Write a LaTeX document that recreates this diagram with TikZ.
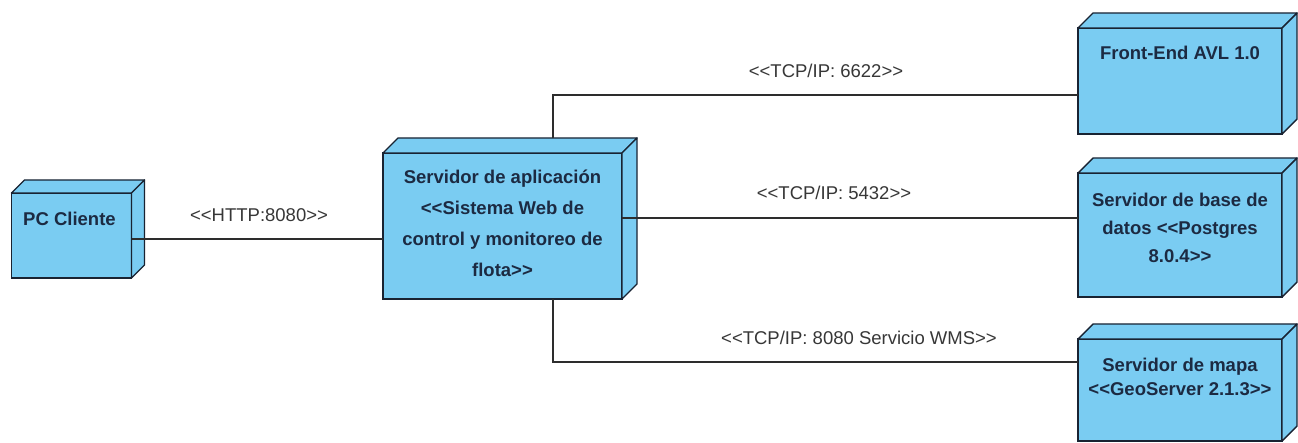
\documentclass[tikz,border=0pt]{standalone}
\usepackage{fontspec}
\setmainfont{Liberation Sans}
\usetikzlibrary{calc}
\definecolor{nodefill}{RGB}{122,204,242}
\definecolor{nodeline}{RGB}{25,35,50}
\definecolor{nodetext}{RGB}{28,42,66}
\definecolor{linkline}{RGB}{45,45,45}
\definecolor{linktext}{RGB}{55,55,55}
% stereotype brackets without guillemet ligatures
\newcommand\stO{<\kern0pt<}
\newcommand\stC{>\kern0pt>}
\begin{document}
\begin{tikzpicture}[x=1pt,y=-1pt,
  nodebox/.style={draw=nodeline, fill=nodefill, line width=1.4pt, rectangle,
    inner sep=0pt, outer sep=0pt, anchor=north west},
  face/.style={draw=nodeline, fill=nodefill, line width=1.4pt, line join=round},
  nodetxt/.style={text=nodetext, font=\bfseries\fontsize{18.5}{31}\selectfont,
    align=center, inner sep=0pt},
  link/.style={draw=linkline, line width=1.2pt},
  linklbl/.style={text=linktext, font=\fontsize{18.5}{22}\selectfont, inner sep=0pt}]

\useasboundingbox (0,0) rectangle (1298,443);

% front faces of the deployment nodes
\node[nodebox, minimum width=120pt, minimum height=85pt]  (pc)  at (11.5,193) {};
\node[nodebox, minimum width=239pt, minimum height=146pt] (app) at (383,153) {};
\node[nodebox, minimum width=204pt, minimum height=106pt] (fe)  at (1078,28) {};
\node[nodebox, minimum width=204pt, minimum height=124pt] (db)  at (1078,173) {};
\node[nodebox, minimum width=204pt, minimum height=102pt] (map) at (1078,339) {};

% top and side faces
\foreach \n/\d in {pc/13,app/15,fe/15,db/15,map/15}{
  \draw[face] (\n.north west) -- ++(\d,-\d) -- ($(\n.north east)+(\d,-\d)$) -- (\n.north east) -- cycle;
  \draw[face] (\n.north east) -- ++(\d,-\d) -- ($(\n.south east)+(\d,-\d)$) -- (\n.south east) -- cycle;
}

% node captions
\node[nodetxt, anchor=west] (pct) at (23,219) {PC Cliente};
\node[nodetxt] (appt) at (502.5,223.5) {Servidor de aplicación\\\stO Sistema Web de\\control y monitoreo de\\flota\stC};
\node[nodetxt] (fet) at (1180,53) {Front-End AVL 1.0};
\node[nodetxt, font=\bfseries\fontsize{18.5}{28}\selectfont] (dbt) at (1180,228) {Servidor de base de\\datos \stO Postgres\\8.0.4\stC};
\node[nodetxt, font=\bfseries\fontsize{18.5}{24}\selectfont] (mapt) at (1180,377) {Servidor de mapa\\\stO GeoServer 2.1.3\stC};

% communication paths
\coordinate (h1) at ([yshift=-3.5pt]pc.east);
\draw[link] (h1) -- (h1 -| app.west);
\coordinate (h2) at ([yshift=8pt]app.east);
\draw[link] (h2) -- (h2 -| db.west);
\coordinate (v1) at ([xshift=50.5pt,yshift=15pt]app.north);
\draw[link] (v1) |- ([yshift=-14pt]fe.west);
\coordinate (v2) at ([xshift=50.5pt]app.south);
\draw[link] (v2) |- ([yshift=28pt]map.west);

% path labels
\node[linklbl] (l1) at (259,215) {\stO HTTP:8080\stC};
\node[linklbl] (l2) at (826,71)  {\stO TCP/IP: 6622\stC};
\node[linklbl] (l3) at (834,193) {\stO TCP/IP: 5432\stC};
\node[linklbl] (l4) at (859,338) {\stO TCP/IP: 8080 Servicio WMS\stC};
\end{tikzpicture}
\end{document}
